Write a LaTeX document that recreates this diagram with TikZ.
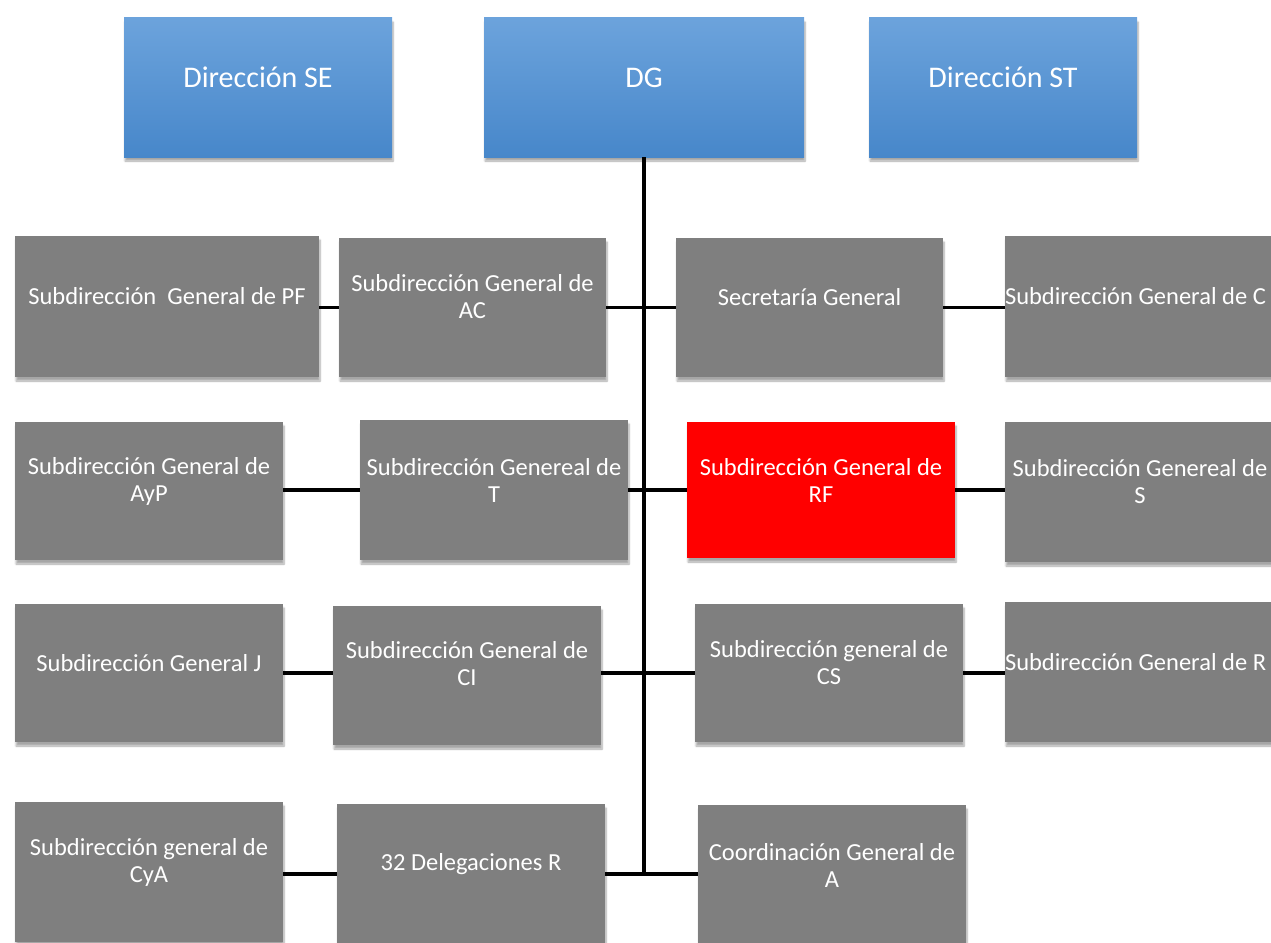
\documentclass[tikz,border=0pt]{standalone}
\usepackage{fontspec}
\setmainfont{Carlito}
\usetikzlibrary{shadows.blur}
\tikzset{
  boxbase/.style={draw=none, minimum width=268pt, minimum height=139pt, inner sep=0pt,
    blur shadow={shadow xshift=1pt, shadow yshift=-4pt, shadow blur steps=6, shadow opacity=35}},
  bluebox/.style={boxbase, top color=blueTop, bottom color=blueBot},
  graybox/.style={boxbase, fill=grayBox},
  redbox/.style={boxbase, fill=red},
  txt/.style={text=white, align=center, font=\fontsize{24.5}{27}\selectfont, inner sep=0pt},
  btxt/.style={text=white, align=center, font=\fontsize{30}{33}\selectfont, inner sep=0pt},
  conn/.style={line width=3.2pt, black}
}
\definecolor{blueTop}{HTML}{6CA3DC}
\definecolor{blueBot}{HTML}{4787CA}
\definecolor{grayBox}{HTML}{7F7F7F}
\begin{document}
\begin{tikzpicture}[x=1pt, y=-1pt]
\useasboundingbox (0,0) rectangle (1271,942);
% top row
\node[bluebox] (SE) at (258,87.5) {};
\node[bluebox, minimum width=320pt] (DG) at (644,87.5) {};
\node[bluebox] (ST) at (1003,87.5) {};
% row 1
\node[graybox, minimum width=304pt, minimum height=141pt] (PF) at (167,306.5) {};
\node[graybox, minimum width=267pt] (AC) at (472.5,307.5) {};
\node[graybox, minimum width=267pt] (SG) at (809.5,307.5) {};
\node[graybox, minimum width=270pt, minimum height=141pt] (C) at (1140,306.5) {};
% row 2
\node[graybox, minimum height=138pt] (AyP) at (149,491) {};
\node[graybox, minimum height=140pt] (T) at (494,490) {};
\node[redbox, minimum height=136pt] (RF) at (821,490) {};
\node[graybox, minimum width=270pt, minimum height=140pt] (S) at (1140,492) {};
% row 3
\node[graybox, minimum height=138pt] (J) at (149,673) {};
\node[graybox] (CI) at (467,675.5) {};
\node[graybox, minimum height=138pt] (CS) at (829,673) {};
\node[graybox, minimum width=270pt, minimum height=140pt] (R) at (1140,672) {};
% row 4
\node[graybox, minimum height=140pt] (CyA) at (149,872) {};
\node[graybox, minimum height=140pt] (Del) at (471,874) {};
\node[graybox, minimum height=140pt] (CoA) at (832,875) {};

% texts
\node[btxt] (SEt) at ([yshift=10pt]SE.center) {Dirección SE};
\node[btxt] (DGt) at ([yshift=10pt]DG.center) {DG};
\node[btxt] (STt) at ([yshift=10pt]ST.center) {Dirección ST};
\node[txt] (PFt) at ([yshift=10pt]PF.center) {Subdirección\ \ General de PF};
\node[txt] (ACt) at ([yshift=11pt]AC.center) {Subdirección General de\\AC};
\node[txt] (SGt) at ([yshift=10pt]SG.center) {Secretaría General};
\node[txt, anchor=west] (Ct) at ([yshift=10pt]C.west) {Subdirección General de C};
\node[txt] (AyPt) at ([yshift=10pt]AyP.center) {Subdirección General de\\AyP};
\node[txt] (Tt) at ([yshift=10pt]T.center) {Subdirección Genereal de\\T};
\node[txt] (RFt) at ([yshift=10pt]RF.center) {Subdirección General de\\RF};
\node[txt] (St) at ([yshift=10pt]S.center) {Subdirección Genereal de\\S};
\node[txt] (Jt) at ([yshift=10pt]J.center) {Subdirección General J};
\node[txt] (CIt) at ([yshift=12pt]CI.center) {Subdirección General de\\CI};
\node[txt] (CSt) at ([yshift=10pt]CS.center) {Subdirección general de\\CS};
\node[txt, anchor=west] (Rt) at ([yshift=10pt]R.west) {Subdirección General de R};
\node[txt] (CyAt) at ([yshift=10pt]CyA.center) {Subdirección general de\\CyA};
\node[txt] (Delt) at ([yshift=10pt]Del.center) {32 Delegaciones R};
\node[txt] (CoAt) at ([yshift=10pt]CoA.center) {Coordinación General de\\A};

% connectors
\draw[conn] (DG.south) -- (DG.south |- Del.east);
\draw[conn] (AC.east) -- (SG.west);
\draw[conn] (PF.east |- AC.west) -- (AC.west);
\draw[conn] (SG.east) -- (SG.east -| C.west);
\draw[conn] (AyP.east |- T.west) -- (T.west);
\draw[conn] (T.east) -- (RF.west);
\draw[conn] (RF.east) -- (RF.east -| S.west);
\draw[conn] (J.east |- CS.west) -- (CI.west |- CS.west);
\draw[conn] (CI.east |- CS.west) -- (CS.west);
\draw[conn] (CS.east) -- (CS.east -| R.west);
\draw[conn] (CyA.east |- Del.west) -- (Del.west);
\draw[conn] (Del.east) -- (Del.east -| CoA.west);
\end{tikzpicture}
\end{document}
